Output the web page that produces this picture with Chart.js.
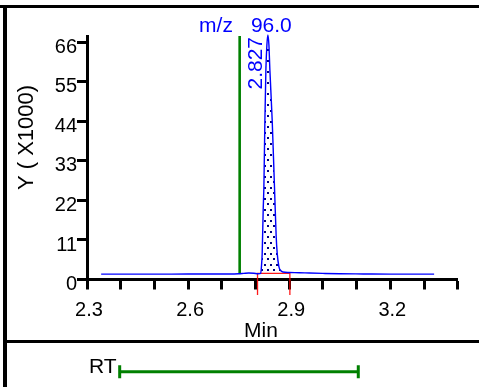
<!DOCTYPE html>
<html>
<head>
<meta charset="utf-8">
<script src="https://cdn.jsdelivr.net/npm/chart.js@4.4.0/dist/chart.umd.min.js"></script>
<style>
html,body{margin:0;padding:0;background:#fff;}
#wrap{position:relative;width:479px;height:387px;overflow:hidden;background:#fff;}
#c{position:absolute;left:0;top:0;width:479px;height:387px;}
.rule{position:absolute;background:#000;}
</style>
</head>
<body>
<div id="wrap">
<canvas id="c" width="479" height="387"></canvas>
<div class="rule" style="left:0;top:5px;width:479px;height:3px"></div>
<div class="rule" style="left:3px;top:5px;width:4px;height:382px"></div>
<div class="rule" style="left:3px;top:339.5px;width:476px;height:3px"></div>
</div>
<script>
// ---- data ----
const xTickValues = [2.3, 2.4, 2.5, 2.6, 2.7, 2.8, 2.9, 3.0, 3.1, 3.2, 3.3, 3.4];
const xTickLabels = ['2.3', '2.6', '2.9', '3.2'];
const yTickValues = [0, 11, 22, 33, 44, 55, 66];
const yTitle = 'Y ( X1000)';
const xTitle = 'Min';
const mzPrefix = 'm/z';
const mzValue = '96.0';
const peakRTLabel = '2.827';

// chromatogram trace (minutes, abundance x1000)
const traceTime = [2.342, 2.45, 2.55, 2.65, 2.72, 2.75, 2.765, 2.78, 2.795, 2.808, 2.8154, 2.8178, 2.8199, 2.8228, 2.8249, 2.8279, 2.8308, 2.8338, 2.8368, 2.8398, 2.8427, 2.8495, 2.8563, 2.8614, 2.8643, 2.8694, 2.8747, 2.8812, 2.90, 2.93, 2.96, 3.0, 3.05, 3.12, 3.2, 3.33];
const traceAbund = [1.5, 1.5, 1.5, 1.55, 1.55, 1.6, 1.7, 1.8, 1.75, 1.6, 1.7, 3.8, 7.4, 19.3, 25.8, 44.4, 58.3, 65.3, 68.1, 65.3, 58.3, 44.4, 25.8, 11.9, 7.4, 3.6, 2.5, 2.1, 1.95, 1.9, 1.8, 1.7, 1.6, 1.55, 1.5, 1.5];

// integration window and baseline
const integStart = 2.806;
const integEnd = 2.902;
const integBaseline = 1.73;
const integTickLow = -4.3;

// expected RT marker (green vertical)
const markerTime = 2.753;
const markerLow = 1.6;
const markerHigh = 67.8;

// RT window (lower panel), minutes
const rtWindow = [2.397, 3.105];
const rtLabel = 'RT';

const yMax = 67.8;

// ---- build ----
const FONT = '"Liberation Sans", Arial, Helvetica, sans-serif';
Chart.defaults.font.family = FONT;

const tracePts = traceTime.map((t, i) => ({x: t, y: traceAbund[i]}));
const areaPts = tracePts.filter(p => p.x >= integStart && p.x <= integEnd);

function makePattern() {
  const c = document.createElement('canvas');
  c.width = 6; c.height = 11;
  const g = c.getContext('2d');
  g.fillStyle = '#000080';
  g.fillRect(0, 0, 2, 2);
  g.fillRect(3, 5, 2, 2);
  return g.createPattern(c, 'repeat');
}

const annot = {
  id: 'annot',
  afterDraw(chart) {
    const {ctx, scales: {x}, chartArea} = chart;
    ctx.save();
    // m/z label
    ctx.fillStyle = '#0000ff';
    ctx.font = '21px ' + FONT;
    ctx.textBaseline = 'alphabetic';
    const cx = (chartArea.left + chartArea.right) / 2 - 1;
    const w = ctx.measureText(mzValue).width;
    ctx.textAlign = 'left';
    ctx.fillText(mzValue, cx - w / 2, 31.7);
    ctx.textAlign = 'right';
    ctx.fillText(mzPrefix, cx - w / 2 - 18, 31.7);
    // peak RT label (rotated)
    ctx.save();
    ctx.translate(x.getPixelForValue(parseFloat(peakRTLabel)) - 2.5, chartArea.top + 1);
    ctx.rotate(-Math.PI / 2);
    ctx.textAlign = 'right';
    ctx.fillText(peakRTLabel, 0, 0);
    ctx.restore();
    // axis titles
    ctx.fillStyle = '#000';
    ctx.font = '22px ' + FONT;
    ctx.save();
    ctx.translate(33, 137.5);
    ctx.rotate(-Math.PI / 2);
    ctx.textAlign = 'center';
    ctx.fillText(yTitle, 0, 0);
    ctx.restore();
    ctx.font = '21px ' + FONT;
    ctx.textAlign = 'center';
    ctx.fillText(xTitle, 261, 336.7);
    // RT window bar in lower panel (x from the time scale)
    const x0 = x.getPixelForValue(rtWindow[0]);
    const x1 = x.getPixelForValue(rtWindow[1]);
    const yb = 371.7;
    ctx.strokeStyle = '#008000';
    ctx.lineWidth = 3;
    ctx.beginPath();
    ctx.moveTo(x0, yb); ctx.lineTo(x1, yb);
    ctx.moveTo(x0, yb - 6.5); ctx.lineTo(x0, yb + 6.5);
    ctx.moveTo(x1, yb - 6.5); ctx.lineTo(x1, yb + 6.5);
    ctx.stroke();
    ctx.textAlign = 'right';
    ctx.fillText(rtLabel, x0 - 3, 373.3);
    ctx.restore();
  }
};

new Chart(document.getElementById('c'), {
  type: 'line',
  data: {
    datasets: [
      {
        label: 'trace',
        data: tracePts,
        borderColor: '#0000ff',
        borderWidth: 1.4,
        pointRadius: 0,
        cubicInterpolationMode: 'monotone',
        fill: false,
        clip: false,
        order: 1
      },
      {
        label: 'marker',
        data: [{x: markerTime, y: markerLow}, {x: markerTime, y: markerHigh}],
        borderColor: '#008000',
        borderWidth: 2.6,
        pointRadius: 0,
        fill: false,
        order: 2
      },
      {
        label: 'integration',
        data: [{x: integStart, y: integTickLow}, {x: integStart, y: integBaseline}, {x: integEnd, y: integBaseline}, {x: integEnd, y: integTickLow}],
        borderColor: 'rgba(255,0,0,0.9)',
        borderWidth: 1.3,
        pointRadius: 0,
        fill: false,
        clip: false,
        order: 3
      },
      {
        label: 'area',
        data: areaPts,
        borderWidth: 0,
        borderColor: 'rgba(0,0,0,0)',
        backgroundColor: makePattern(),
        pointRadius: 0,
        cubicInterpolationMode: 'monotone',
        fill: {target: {value: integBaseline}},
        order: 4
      }
    ]
  },
  options: {
    responsive: false,
    animation: false,
    devicePixelRatio: 1,
    events: [],
    layout: {padding: {top: 36, right: 21.3, left: 0, bottom: 0}},
    plugins: {legend: {display: false}, tooltip: {enabled: false}, title: {display: false}},
    scales: {
      x: {
        type: 'linear',
        min: 2.3,
        max: 3.4,
        afterBuildTicks: s => { s.ticks = xTickValues.map(v => ({value: v})); },
        afterFit: s => { s.height = 387 - 279.5; },
        ticks: {
          autoSkip: false,
          maxRotation: 0,
          minRotation: 0,
          padding: 9,
          labelOffset: 2,
          color: '#000',
          font: {size: 20},
          callback: v => { const s = Number(v).toFixed(1); return xTickLabels.includes(s) ? s : ''; }
        },
        grid: {drawOnChartArea: false, drawTicks: true, tickLength: 10, tickWidth: 3, tickColor: '#000'},
        border: {display: true, color: '#000', width: 3}
      },
      y: {
        type: 'linear',
        min: 0,
        max: yMax,
        afterBuildTicks: s => { s.ticks = yTickValues.map(v => ({value: v})); },
        afterFit: s => { s.width = 87; },
        ticks: {
          padding: 0,
          labelOffset: 5,
          color: '#000',
          font: {size: 20},
          callback: v => String(v)
        },
        grid: {drawOnChartArea: false, drawTicks: true, tickLength: 10, tickWidth: 3, tickColor: '#000'},
        border: {display: true, color: '#000', width: 3}
      }
    }
  },
  plugins: [annot]
});
</script>
</body>
</html>
